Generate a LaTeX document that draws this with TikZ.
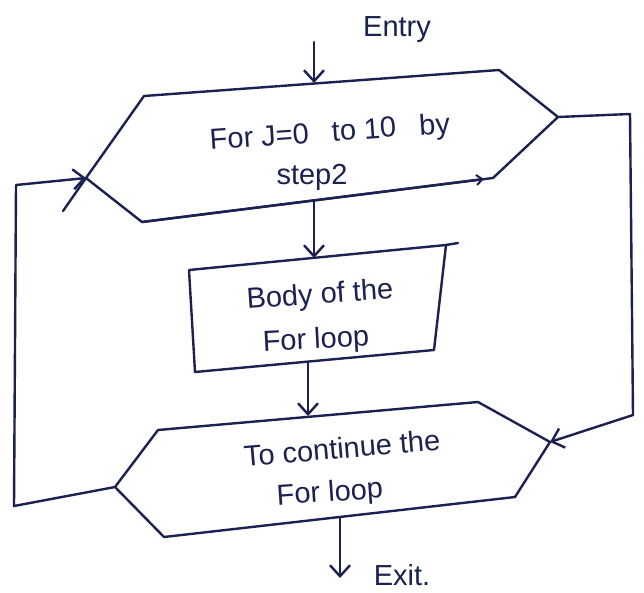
\documentclass[tikz,border=0pt]{standalone}
\usepackage{fontspec}
\setmainfont{Liberation Sans}
\usetikzlibrary{arrows.meta}
\definecolor{ink}{HTML}{1B2150}
\begin{document}
\begin{tikzpicture}[x=1pt,y=-1pt,color=ink,line width=2.4pt,
  line join=round,line cap=round,
  lbl/.style={text=ink,font=\fontsize{29}{33}\selectfont,inner sep=0pt},
  tip/.style={-{Straight Barb[length=11pt,width=20pt,line width=2.4pt]}},
  smalltip/.style={-{Straight Barb[length=6pt,width=10pt,line width=2pt]}}]
\fill[white] (0,0) rectangle (644,592);
\useasboundingbox (0,0) rectangle (644,592);

% loop header
\coordinate (A1) at (144,96);
\coordinate (A2) at (499,70);
\coordinate (A3) at (558,117);
\coordinate (A4) at (493,178);
\coordinate (A4a) at (484,179);
\coordinate (A5) at (142,222);
\coordinate (A6) at (86,178);
\coordinate (A6x) at (63,211);
\draw (A1) -- (A2) -- (A3) -- (A4) -- (A5) -- (A6) -- cycle;
\draw (A6) -- (A6x);
\draw[smalltip] (A5) -- (A4a);

% loop body
\coordinate (K1) at (189,270);
\coordinate (K2) at (446,245);
\coordinate (K2x) at (458,243);
\coordinate (K3) at (434,350);
\coordinate (K4) at (195,372);
\draw (K1) -- (K2) -- (K3) -- (K4) -- cycle;
\draw (K2) -- (K2x);

% loop test
\coordinate (B1) at (158,430);
\coordinate (B2) at (478,402);
\coordinate (B3) at (550,442);
\coordinate (B4) at (515,497);
\coordinate (B5) at (164,537);
\coordinate (B6) at (115,487);
\draw (B1) -- (B2) -- (B3) -- (B4) -- (B5) -- (B6) -- cycle;

% connectors
\coordinate (E0) at (314,42);
\coordinate (E1) at (314,83);
\coordinate (T0) at (314,200);
\coordinate (T1) at (314,258);
\coordinate (S0) at (308,362);
\coordinate (S1) at (308,416);
\coordinate (X0) at (340,517);
\coordinate (X1) at (340,578);
\coordinate (L1) at (16,185);
\coordinate (L2) at (14,506);
\coordinate (R1) at (630,114);
\coordinate (R2) at (633,415);
\draw[tip] (E0) -- (E1);
\draw[tip] (T0) -- (T1);
\draw[tip] (S0) -- (S1);
\draw[tip] (X0) -- (X1);
\draw[tip] (B6) -- (L2) -- (L1) -- (A6);
\draw[tip] (A3) -- (R1) -- (R2) -- (B3);

% labels
\node[lbl] (entry) at (397,30) {Entry};
\node[lbl,rotate=4] (head1) at (330,134) {For J=0\hspace{0.8em}to 10\hspace{0.8em}by};
\node[lbl] (head2) at (312,177) {step2};
\node[lbl,rotate=4] (body1) at (320,296) {Body of the};
\node[lbl,rotate=3] (body2) at (316,341) {For loop};
\node[lbl,rotate=5] (test1) at (342,448) {To continue the};
\node[lbl,rotate=4] (test2) at (330,494) {For loop};
\node[lbl] (exit) at (402,575) {Exit.};
\end{tikzpicture}
\end{document}
